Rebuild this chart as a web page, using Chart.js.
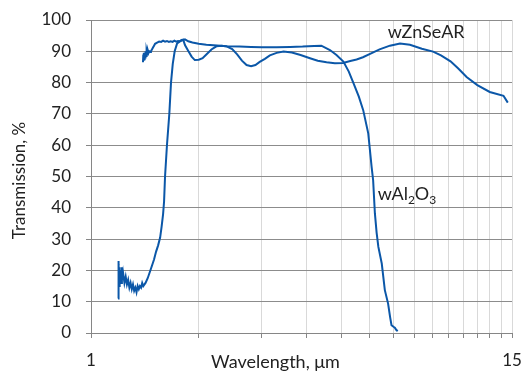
<!DOCTYPE html>
<html>
<head>
<meta charset="utf-8">
<script src="https://cdn.jsdelivr.net/npm/chart.js@4"></script>
<style>
html, body { margin: 0; padding: 0; background: #fff; }
</style>
</head>
<body>
<canvas id="chart" width="523" height="372"></canvas>
<script>
// wavelength (um) and transmission (%)
var znseX = [1.397, 1.400, 1.403, 1.406, 1.409, 1.412, 1.416, 1.420, 1.425, 1.430, 1.436, 1.442, 1.448, 1.455, 1.462,
  1.47, 1.48, 1.49, 1.50, 1.51, 1.53, 1.55, 1.57, 1.59, 1.61, 1.63, 1.65, 1.67, 1.69, 1.71, 1.73, 1.75, 1.77, 1.79,
  1.81, 1.83, 1.87, 1.91, 1.95, 2.00, 2.05, 2.10, 2.17, 2.24, 2.32, 2.40, 2.48, 2.56, 2.64, 2.72, 2.80, 2.88, 2.96,
  3.06, 3.16, 3.30, 3.45, 3.64, 3.85, 4.09, 4.30, 4.55, 4.80, 5.06, 5.30, 5.52, 5.75, 6.02, 6.40, 6.84, 7.30, 7.78,
  8.40, 9.03, 9.50, 10.1, 10.6, 11.2, 12.0, 13.0, 14.2, 14.6, 15];
var znseY = [86.5, 89, 87, 89.5, 87.5, 89.5, 88, 90, 88.5, 90, 89, 90.2, 89.5, 90,
  89.8, 90, 90.6, 91.2, 91.8, 92.4, 92.8, 93.1, 93.0, 93.4, 93.1, 93.3, 93.0, 93.2, 93.0, 93.4, 93.1, 93.3, 93.2,
  93.6, 93.7, 92.0, 90.1, 88.3, 87.2, 87.3, 87.8, 89.0, 90.6, 91.6, 91.8, 91.5, 90.7, 89.0, 87.0, 85.6, 85.2, 85.6,
  86.6, 87.6, 88.7, 89.5, 89.9, 89.6, 88.8, 87.8, 87.0, 86.5, 86.2, 86.3, 86.9, 87.4, 88.1, 89.2, 90.6, 91.8, 92.5,
  92.1, 90.8, 89.9, 88.7, 86.8, 84.6, 81.8, 79.2, 77.0, 75.8, 73.6];

var al2o3X = [1.190, 1.192, 1.194, 1.196, 1.198, 1.20, 1.205, 1.21, 1.215, 1.22, 1.225, 1.23, 1.24, 1.25, 1.26,
  1.27, 1.28, 1.29, 1.30, 1.31, 1.32, 1.33, 1.34, 1.35, 1.36, 1.37, 1.38, 1.39, 1.40, 1.42, 1.44, 1.46, 1.48, 1.50,
  1.52, 1.54, 1.56, 1.575, 1.59, 1.60, 1.61, 1.63, 1.655, 1.673, 1.692, 1.713, 1.74, 1.78, 1.83, 1.87, 1.92, 2.0, 2.1,
  2.2, 2.4, 2.6, 2.8, 3.0, 3.3, 3.6, 3.9, 4.2, 4.4, 4.65, 4.85, 5.07, 5.25, 5.41, 5.60, 5.76, 5.95, 6.08, 6.14,
  6.21, 6.28, 6.35, 6.49, 6.62, 6.76, 6.85, 6.91, 7.0, 7.06, 7.12, 7.19];
var al2o3Y = [11, 23, 13, 22, 15, 21, 17, 20, 16, 21, 17, 19, 16, 18, 15.5,
  17, 14.5, 16, 14, 15.5, 13.5, 14.5, 13, 15, 14, 15, 14.5, 16, 15, 16, 17.5, 19.5, 21.5, 23.5,
  26, 28, 30.5, 34, 38, 42, 50, 60, 70, 80, 86, 90, 92.5, 93.3, 93.8, 93.2, 92.8, 92.4, 92.1,
  91.9, 91.6, 91.5, 91.4, 91.3, 91.3, 91.4, 91.5, 91.7, 91.8, 90.4, 88.8, 86.7, 83.5, 79.8, 75.5, 71.2, 63.8, 53.1, 48.8,
  38.2, 32, 27.5, 22.2, 13.7, 9.4, 5, 2.5, 2, 1.7, 1, 0.6];

var xTickValues = [1, 2, 3, 4, 5, 6, 7, 8, 9, 10, 11, 12, 13, 14, 15];
var xTickLabels = [1, 15];
var seriesNames = ["wZnSeAR", "wAl2O3"];

var lineColor = "#0b57a8";
var textColor = "#222222";
var fontFamily = "Lato, 'Open Sans', sans-serif";

var toPoints = function(xs, ys) {
  return xs.map(function(x, i) { return { x: x, y: ys[i] }; });
};

// series labels, placed in data units; parts with sub:true are subscripts
var seriesLabels = [
  { x: 6.75, y: 94.2, parts: [{ t: "wZnSeAR" }] },
  { x: 6.33, y: 42.4, parts: [{ t: "wAl" }, { t: "2", sub: true }, { t: "O" }, { t: "3", sub: true }] }
];

var textPlugin = {
  id: "texts",
  afterDraw: function(chart) {
    var ctx = chart.ctx, xs = chart.scales.x, ys = chart.scales.y, area = chart.chartArea;
    ctx.save();
    ctx.fillStyle = textColor;
    ctx.textBaseline = "alphabetic";
    seriesLabels.forEach(function(lab) {
      var px = xs.getPixelForValue(lab.x), py = ys.getPixelForValue(lab.y);
      lab.parts.forEach(function(p) {
        ctx.font = (p.sub ? "12px " : "18px ") + fontFamily;
        ctx.textAlign = "left";
        ctx.fillText(p.t, px, p.sub ? py + 4 : py);
        px += ctx.measureText(p.t).width;
      });
    });
    // axis titles
    ctx.font = "18px " + fontFamily;
    ctx.textAlign = "center";
    ctx.textBaseline = "middle";
    ctx.fillText("Wavelength, \u03bcm", 275.5, 362);
    ctx.font = "17px " + fontFamily;
    ctx.translate(19.5, (area.top + area.bottom) / 2 + 4);
    ctx.rotate(-Math.PI / 2);
    ctx.fillText("Transmission, %", 0, 0);
    ctx.restore();
  }
};

var ctx = document.getElementById("chart");
var chart = new Chart(ctx, {
  type: "scatter",
  data: {
    datasets: [
      { label: seriesNames[0], data: toPoints(znseX, znseY) },
      { label: seriesNames[1], data: toPoints(al2o3X, al2o3Y) }
    ]
  },
  options: {
    responsive: false,
    animation: false,
    showLine: true,
    layout: { padding: { left: 0, right: 11, top: 20, bottom: 0 } },
    elements: {
      point: { radius: 0, hoverRadius: 0 },
      line: { borderColor: lineColor, borderWidth: 2, tension: 0 }
    },
    plugins: {
      legend: { display: false },
      tooltip: { enabled: false }
    },
    scales: {
      x: {
        type: "logarithmic",
        min: 1,
        max: 15,
        afterBuildTicks: function(scale) {
          scale.ticks = xTickValues.map(function(v) { return { value: v }; });
        },
        afterFit: function(scale) {
          scale.height = 39;
          scale.paddingLeft = 0;
          scale.paddingRight = 0;
        },
        ticks: {
          autoSkip: false,
          maxRotation: 0,
          padding: 12,
          color: textColor,
          font: { family: fontFamily, size: 17 },
          callback: function(v) { return xTickLabels.indexOf(v) >= 0 ? String(v) : ""; }
        },
        grid: { color: "#d9d9d9", tickColor: "#868686", tickLength: 5 },
        border: { color: "#868686" }
      },
      y: {
        min: 0,
        max: 100,
        afterFit: function(scale) {
          scale.width = 91;
          scale.paddingTop = 0;
          scale.paddingBottom = 0;
        },
        ticks: {
          stepSize: 10,
          padding: 15,
          color: textColor,
          font: { family: fontFamily, size: 17 }
        },
        grid: { color: "#8c8c8c", tickColor: "#868686", tickLength: 5 },
        border: { color: "#868686" }
      }
    }
  },
  plugins: [textPlugin]
});
</script>
</body>
</html>
